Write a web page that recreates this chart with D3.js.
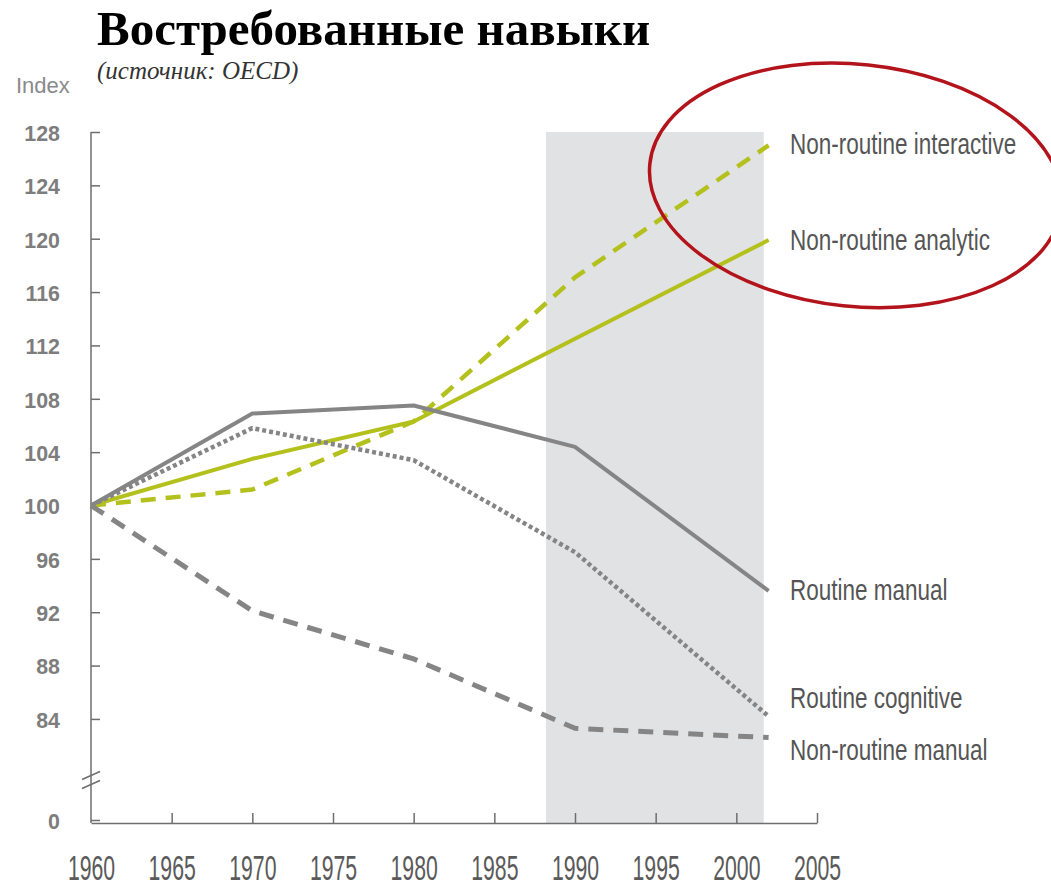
<!DOCTYPE html>
<html>
<head>
<meta charset="utf-8">
<script src="https://cdn.jsdelivr.net/npm/d3@7"></script>
<style>
  body { margin: 0; background: #fff; }
  svg { display: block; }
</style>
</head>
<body>
<svg id="chart"></svg>
<script>
// data
const years = [1960, 1970, 1980, 1990, 2002];
const nonRoutineInteractive = [100, 101.2, 106.3, 117.1, 127.0];
const nonRoutineAnalytic = [100, 103.5, 106.3, 112.5, 119.9];
const routineManual = [100, 106.9, 107.5, 104.4, 93.6];
const routineCognitive = [100, 105.8, 103.4, 96.5, 84.2];
const nonRoutineManual = [100, 92.1, 88.5, 83.3, 82.6];

const seriesNames = ["Non-routine interactive", "Non-routine analytic", "Routine manual", "Routine cognitive", "Non-routine manual"];
const seriesValues = [nonRoutineInteractive, nonRoutineAnalytic, routineManual, routineCognitive, nonRoutineManual];

const yTicks = [0, 84, 88, 92, 96, 100, 104, 108, 112, 116, 120, 124, 128];
const xTicks = [1960, 1965, 1970, 1975, 1980, 1985, 1990, 1995, 2000, 2005];
const shadeYears = [1988.2, 2001.7];

// styles per series (same order as seriesNames)
const green = "#b4c01c";
const grey = "#858585";
const styles = [
  { color: green, dash: "15,10", width: 4.5, labelDy: -2 },
  { color: green, dash: null, width: 4, labelDy: -1 },
  { color: grey, dash: null, width: 4, labelDy: -2 },
  { color: grey, dash: "4,3", width: 4.5, labelDy: -19 },
  { color: grey, dash: "15,10", width: 5, labelDy: 12 }
];

const width = 1051;
const height = 889;

const svg = d3.select("#chart").attr("width", width).attr("height", height);

const x = d3.scaleLinear().domain([1960, 2005]).range([91, 817]);
// broken axis: 0 sits just above the x axis, the rest runs from 80 up
const y = d3.scaleLinear().domain([0, 80, 128]).range([820, 772.3, 132]);
const axisY = 823;

// shaded period
svg.append("rect")
  .attr("x", x(shadeYears[0]))
  .attr("y", y(128))
  .attr("width", x(shadeYears[1]) - x(shadeYears[0]))
  .attr("height", axisY - y(128))
  .attr("fill", "#e1e2e4");

// title
svg.append("text")
  .attr("x", 97).attr("y", 45)
  .attr("font-family", "'Liberation Serif', 'Times New Roman', serif")
  .attr("font-weight", "bold")
  .attr("font-size", 49)
  .attr("fill", "#000")
  .text("Востребованные навыки");

svg.append("text")
  .attr("x", 97).attr("y", 79)
  .attr("font-family", "'Liberation Serif', 'Times New Roman', serif")
  .attr("font-style", "italic")
  .attr("font-size", 25)
  .attr("fill", "#333")
  .text("(источник: OECD)");

svg.append("text")
  .attr("x", 16).attr("y", 93)
  .attr("font-family", "'Liberation Sans', Arial, sans-serif")
  .attr("font-size", 22)
  .attr("fill", "#8a8a8a")
  .text("Index");

// y axis
const yAxis = d3.axisLeft(y).tickValues(yTicks).tickSize(-9).tickSizeOuter(0).tickPadding(0);
const gy = svg.append("g").attr("transform", `translate(${x(1960)},0)`).call(yAxis);
gy.select(".domain").remove();
gy.selectAll(".tick line").attr("stroke", "#6e6e6e").attr("stroke-width", 1.5);
gy.selectAll(".tick text")
  .attr("x", -31 / 0.93)
  .attr("dy", "0.36em")
  .attr("transform", "scale(0.93,1)")
  .attr("font-family", "'Liberation Sans', Arial, sans-serif")
  .attr("font-weight", "bold")
  .attr("font-size", 23)
  .attr("fill", "#7d7d7d");

svg.append("line")
  .attr("x1", x(1960)).attr("x2", x(1960))
  .attr("y1", y(128)).attr("y2", axisY)
  .attr("stroke", "#6e6e6e").attr("stroke-width", 1.5);

// break marks on the y axis
const breakY = 780;
[-4.5, 4.5].forEach(off => {
  svg.append("line")
    .attr("x1", x(1960) - 9).attr("y1", breakY + off + 4)
    .attr("x2", x(1960) + 9).attr("y2", breakY + off - 4)
    .attr("stroke", "#6e6e6e").attr("stroke-width", 1.5);
});

// x axis
const xAxis = d3.axisBottom(x).tickValues(xTicks).tickFormat(d3.format("d")).tickSize(-10).tickSizeOuter(0);
const gx = svg.append("g").attr("transform", `translate(0,${axisY})`).call(xAxis);
gx.select(".domain").attr("stroke", "#6e6e6e").attr("stroke-width", 1.5);
gx.selectAll(".tick line").attr("stroke", "#6e6e6e").attr("stroke-width", 1.5);
gx.selectAll(".tick").filter(d => d === 1960).select("line").remove();
gx.selectAll(".tick text")
  .attr("y", 57)
  .attr("dy", 0)
  .attr("transform", "scale(0.59,1)")
  .attr("font-family", "'Liberation Sans', Arial, sans-serif")
  .attr("font-size", 36)
  .attr("fill", "#5a5a5a");

// lines
const line = d3.line()
  .x((d, i) => x(years[i]))
  .y(d => y(d));

seriesValues.forEach((vals, i) => {
  const s = styles[i];
  svg.append("path")
    .datum(vals)
    .attr("d", line)
    .attr("fill", "none")
    .attr("stroke", s.color)
    .attr("stroke-width", s.width)
    .attr("stroke-dasharray", s.dash)
    .attr("stroke-linejoin", "round");

  svg.append("g")
    .attr("transform", `translate(790,${y(vals[vals.length - 1]) + s.labelDy})`)
    .append("text")
    .attr("transform", "scale(0.75,1)")
    .attr("dy", "0.36em")
    .attr("font-family", "'Liberation Sans', Arial, sans-serif")
    .attr("font-size", 30)
    .attr("fill", "#555")
    .text(seriesNames[i]);
});

// red ellipse around the two rising series
svg.append("ellipse")
  .attr("cx", x(2007.4))
  .attr("cy", y(124))
  .attr("rx", 207)
  .attr("ry", 121)
  .attr("transform", `rotate(6,${x(2007.4)},${y(124)})`)
  .attr("fill", "none")
  .attr("stroke", "#b3141c")
  .attr("stroke-width", 3.5);
</script>
</body>
</html>
